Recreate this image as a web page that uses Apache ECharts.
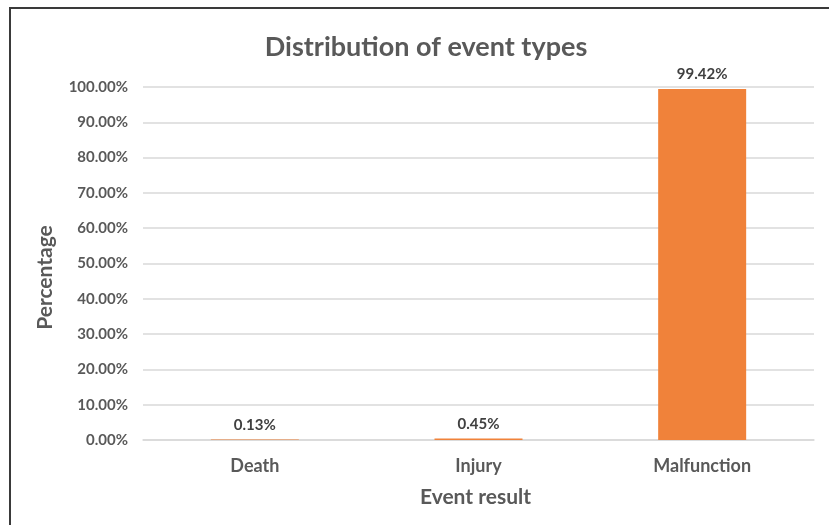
<!DOCTYPE html>
<html>
<head>
<meta charset="utf-8">
<script src="https://cdn.jsdelivr.net/npm/echarts@6/dist/echarts.min.js"></script>
<style>
  html, body { margin: 0; padding: 0; background: #ffffff; }
  #frame { position: absolute; left: 9px; top: 7px; width: 900px; height: 600px; border: 2px solid #3a3a3a; box-sizing: border-box; }
  #chart { position: absolute; left: 0; top: 0; width: 829px; height: 525px; }
</style>
</head>
<body>
<div id="frame"></div>
<div id="chart"></div>
<script>
const categories = ['Death', 'Injury', 'Malfunction'];
const percentages = [0.13, 0.45, 99.42];
const yTicks = { min: 0, max: 100, interval: 10 };

const fontFam = 'Lato, "Open Sans", sans-serif';
const chart = echarts.init(document.getElementById('chart'), null, { renderer: 'canvas' });
chart.setOption({
  animation: false,
  backgroundColor: 'transparent',
  title: {
    text: 'Distribution of event types',
    left: 421,
    textAlign: 'center',
    top: 29,
    textStyle: { fontFamily: fontFam, fontSize: 27, fontWeight: 'bold', color: '#595959' }
  },
  grid: { left: 143, right: 15, top: 87, bottom: 85, containLabel: false },
  xAxis: {
    type: 'category',
    data: categories,
    name: 'Event result',
    nameLocation: 'middle',
    nameGap: 47,
    nameTextStyle: { fontFamily: fontFam, fontSize: 21, fontWeight: 'bold', color: '#595959', padding: [0, 6, 0, 0] },
    axisLine: { show: true, lineStyle: { color: '#d9d9d9', width: 1.5 } },
    axisTick: { show: false },
    axisLabel: { margin: 17, fontFamily: fontFam, fontSize: 18, fontWeight: 'bold', color: '#595959' }
  },
  yAxis: {
    type: 'value',
    min: yTicks.min,
    max: yTicks.max,
    interval: yTicks.interval,
    name: 'Percentage',
    nameLocation: 'middle',
    nameGap: 87,
    nameRotate: 90,
    nameTextStyle: { fontFamily: fontFam, fontSize: 21, fontWeight: 'bold', color: '#595959', padding: [0, 28, 0, 0] },
    axisLine: { show: false },
    axisTick: { show: false },
    splitLine: { lineStyle: { color: '#d9d9d9', width: 1.5 } },
    axisLabel: {
      margin: 15,
      fontFamily: fontFam, fontSize: 15, fontWeight: 'bold', color: '#595959',
      formatter: v => v.toFixed(2) + '%'
    }
  },
  series: [{
    type: 'bar',
    data: percentages,
    barWidth: 88,
    itemStyle: { color: '#F0823A' },
    label: {
      show: true,
      position: 'top',
      distance: 7,
      fontFamily: fontFam, fontSize: 15, fontWeight: 'bold', color: '#404040',
      formatter: p => p.value.toFixed(2) + '%'
    }
  }]
});
</script>
</body>
</html>
